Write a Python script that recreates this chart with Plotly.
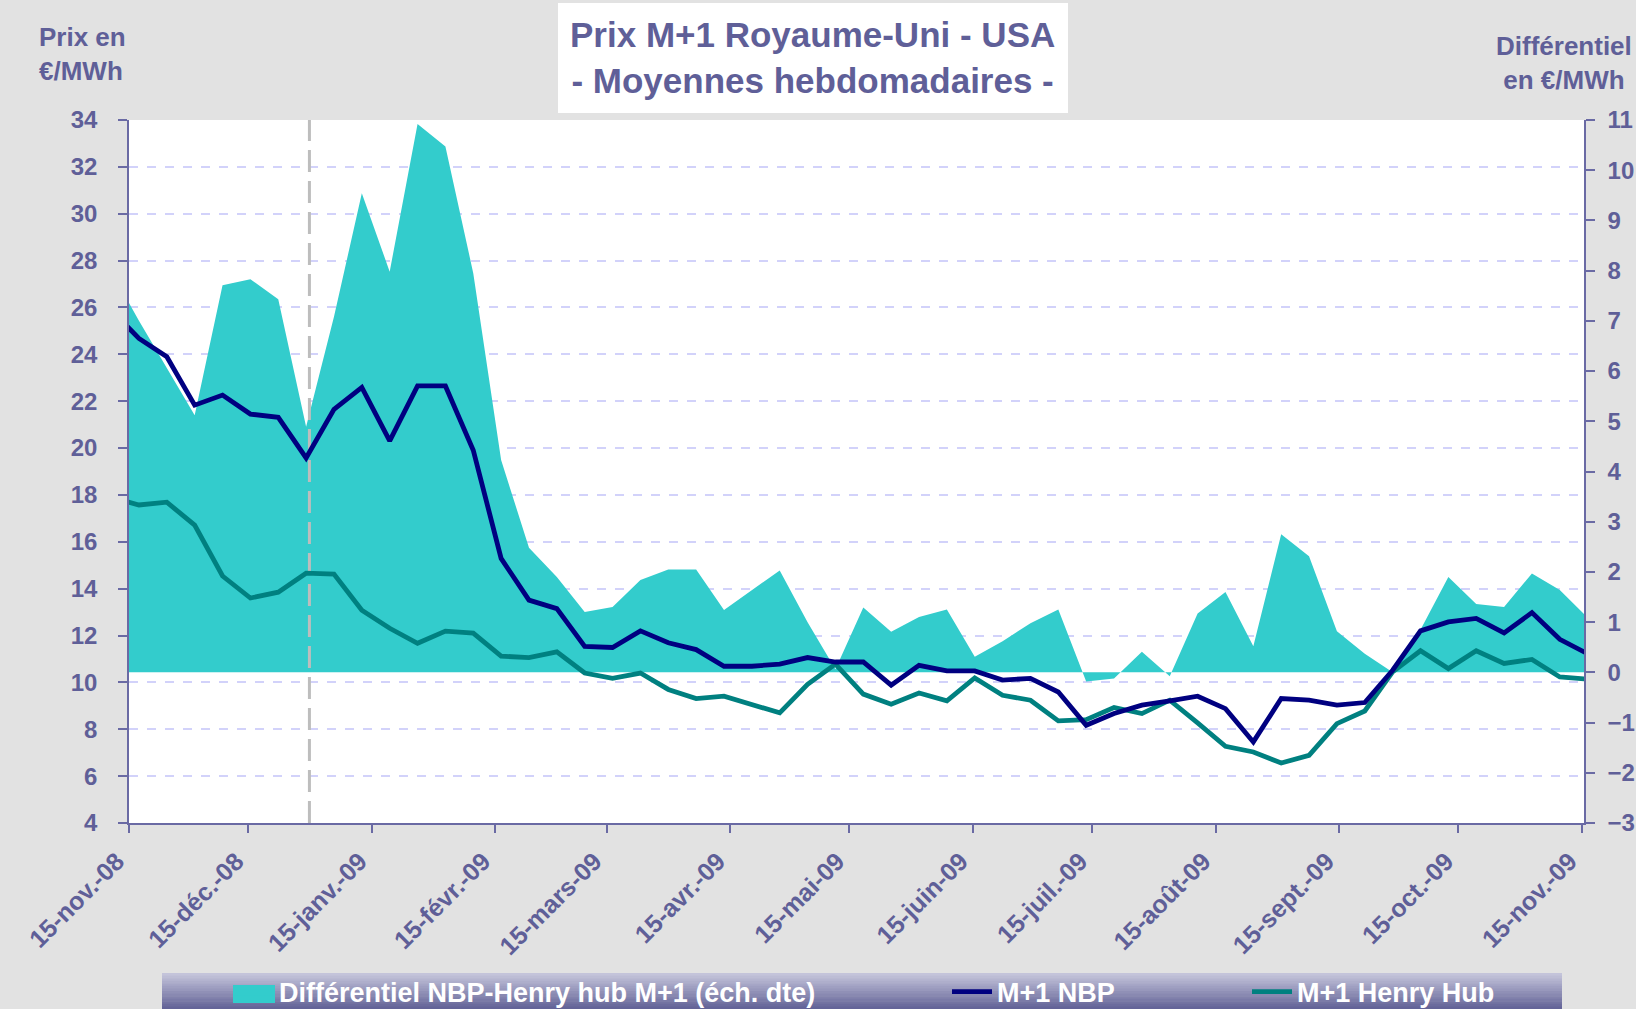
import pandas as pd
import plotly.graph_objects as go

# ---------------- data ----------------
weeks = [
    "2008-11-10", "2008-11-17", "2008-11-24", "2008-12-01", "2008-12-08", "2008-12-15",
    "2008-12-22", "2008-12-29", "2009-01-05", "2009-01-12", "2009-01-19", "2009-01-26",
    "2009-02-02", "2009-02-09", "2009-02-16", "2009-02-23", "2009-03-02", "2009-03-09",
    "2009-03-16", "2009-03-23", "2009-03-30", "2009-04-06", "2009-04-13", "2009-04-20",
    "2009-04-27", "2009-05-04", "2009-05-11", "2009-05-18", "2009-05-25", "2009-06-01",
    "2009-06-08", "2009-06-15", "2009-06-22", "2009-06-29", "2009-07-06", "2009-07-13",
    "2009-07-20", "2009-07-27", "2009-08-03", "2009-08-10", "2009-08-17", "2009-08-24",
    "2009-08-31", "2009-09-07", "2009-09-14", "2009-09-21", "2009-09-28", "2009-10-05",
    "2009-10-12", "2009-10-19", "2009-10-26", "2009-11-02", "2009-11-09", "2009-11-16",
]
nbp = [
    25.9, 24.68, 23.90, 21.83, 22.26, 21.45,
    21.31, 19.58, 21.65, 22.59, 20.31, 22.65,
    22.65, 19.91, 15.29, 13.51, 13.15, 11.54,
    11.49, 12.20, 11.69, 11.40, 10.69, 10.69,
    10.78, 11.06, 10.87, 10.87, 9.88, 10.73,
    10.49, 10.49, 10.10, 10.17, 9.59, 8.17,
    8.67, 9.03, 9.21, 9.41, 8.88, 7.46,
    9.31, 9.24, 9.03, 9.14, 10.52, 12.20,
    12.58, 12.73, 12.11, 12.98, 11.84, 11.22,
]
henry_hub = [
    17.9, 17.57, 17.69, 16.71, 14.54, 13.60,
    13.85, 14.66, 14.62, 13.08, 12.31, 11.67,
    12.19, 12.10, 11.12, 11.06, 11.30, 10.40,
    10.17, 10.40, 9.70, 9.31, 9.41, 9.03,
    8.70, 9.92, 10.78, 9.50, 9.07, 9.55,
    9.21, 10.19, 9.45, 9.24, 8.36, 8.41,
    8.93, 8.67, 9.24, 8.27, 7.27, 7.03,
    6.56, 6.89, 8.24, 8.78, 10.45, 11.35,
    10.59, 11.35, 10.81, 10.98, 10.23, 10.14,
]
differential = [
    8.00, 7.00, 6.06, 5.12, 7.71, 7.83,
    7.43, 4.89, 7.08, 9.54, 7.98, 10.92,
    10.47, 7.95, 4.23, 2.48, 1.90, 1.20,
    1.30, 1.84, 2.05, 2.05, 1.24, 1.64,
    2.03, 1.00, 0.06, 1.29, 0.81, 1.10,
    1.25, 0.31, 0.62, 0.98, 1.25, -0.18,
    -0.12, 0.41, -0.08, 1.17, 1.60, 0.52,
    2.75, 2.31, 0.82, 0.37, 0.00, 0.85,
    1.90, 1.36, 1.30, 1.97, 1.64, 1.09,
]
tick_dates = [
    "2008-11-15", "2008-12-15", "2009-01-15", "2009-02-15", "2009-03-15", "2009-04-15",
    "2009-05-15", "2009-06-15", "2009-07-15", "2009-08-15", "2009-09-15", "2009-10-15",
    "2009-11-15",
]
tick_labels = [
    "15-nov.-08", "15-déc.-08", "15-janv.-09", "15-févr.-09", "15-mars-09", "15-avr.-09",
    "15-mai-09", "15-juin-09", "15-juil.-09", "15-août-09", "15-sept.-09", "15-oct.-09",
    "15-nov.-09",
]
price_range = [4, 34]
diff_range = [-3, 11]
marker_date = "2008-12-30 08:00"
x_range = ["2008-11-15", "2009-11-15 14:00"]

name_diff = "Différentiel NBP-Henry hub M+1 (éch. dte)"
name_nbp = "M+1 NBP"
name_hh = "M+1 Henry Hub"

# ---------------- style ----------------
W, H = 1636, 1009
L, R, T, B = 129, 52, 120, 186
PW, PH = W - L - R, H - T - B
FONT = "Liberation Sans, Arial, Helvetica, sans-serif"
TXT = "#5f5f98"
AXC = "#6a6aa4"
TEAL_FILL = "#33CCCC"


def px(xp):
    return (xp - L) / PW


def py(yp):
    return (H - B - yp) / PH


# Excel places weekly points in the middle of the day slot
xdates = pd.to_datetime(weeks) + pd.Timedelta(hours=12)

fig = go.Figure()
fig.add_trace(go.Scatter(
    x=xdates, y=differential, yaxis="y", mode="lines", fill="tozeroy",
    fillcolor=TEAL_FILL, line=dict(width=0, color=TEAL_FILL),
    name=name_diff, legend="legend",
))
fig.add_trace(go.Scatter(
    x=[pd.Timestamp(marker_date)] * 2, y=diff_range, yaxis="y", mode="lines",
    line=dict(color="#bdbdbd", width=3, dash="22px,9px"), showlegend=False,
    hoverinfo="skip",
))
fig.add_trace(go.Scatter(
    x=xdates, y=henry_hub, yaxis="y2", mode="lines",
    line=dict(color="#008080", width=4.8), name=name_hh, legend="legend3",
))
fig.add_trace(go.Scatter(
    x=xdates, y=nbp, yaxis="y2", mode="lines",
    line=dict(color="#000080", width=4.8), name=name_nbp, legend="legend2",
))

tickfont = dict(family=FONT, size=24, color=TXT, weight="bold")

shapes = []
# legend bar with vertical gradient
n_strips = 14
top_c = (196, 196, 218)
bot_c = (100, 100, 152)
y_top, y_bot = 973, 1009
for i in range(n_strips):
    t = i / (n_strips - 1)
    c = tuple(int(round(top_c[k] + (bot_c[k] - top_c[k]) * t)) for k in range(3))
    y0p = y_top + (y_bot - y_top) * i / n_strips
    y1p = y_top + (y_bot - y_top) * (i + 1) / n_strips
    shapes.append(dict(type="rect", xref="paper", yref="paper", layer="below",
                       x0=px(162), x1=px(1562), y0=py(y1p + 0.5), y1=py(y0p),
                       line=dict(width=0), fillcolor="rgb(%d,%d,%d)" % c))
# legend swatch box for the area series (Excel style square)
shapes.append(dict(type="rect", xref="paper", yref="paper", layer="above",
                   x0=px(233), x1=px(275), y0=py(1003), y1=py(985),
                   line=dict(width=0), fillcolor=TEAL_FILL))
# title box
shapes.append(dict(type="rect", xref="paper", yref="paper", layer="below",
                   x0=px(558), x1=px(1068), y0=py(113), y1=py(3),
                   line=dict(width=0), fillcolor="white"))

annotations = [
    dict(text="Prix M+1 Royaume-Uni - USA<br>- Moyennes hebdomadaires -",
         xref="paper", yref="paper", x=px(812), y=py(58), xanchor="center", yanchor="middle",
         showarrow=False, font=dict(family=FONT, size=35, color=TXT, weight="bold")),
    dict(text="Prix en<br>€/MWh", xref="paper", yref="paper", x=px(37), y=py(54),
         xanchor="left", yanchor="middle", align="left", showarrow=False,
         font=dict(family=FONT, size=26, color=TXT, weight="bold")),
    dict(text="Différentiel<br>en €/MWh", xref="paper", yref="paper", x=px(1634), y=py(63),
         xanchor="right", yanchor="middle", align="center", showarrow=False,
         font=dict(family=FONT, size=26, color=TXT, weight="bold")),
]

legfont = dict(family=FONT, size=27, color="white", weight="bold")
leg_common = dict(orientation="h", xanchor="left", yanchor="middle", y=py(992),
                  bgcolor="rgba(0,0,0,0)", font=legfont, itemwidth=40)

fig.update_layout(
    width=W, height=H,
    margin=dict(l=L, r=R, t=T, b=B, autoexpand=False),
    paper_bgcolor="#e2e2e2", plot_bgcolor="white",
    font=dict(family=FONT, color=TXT),
    showlegend=True,
    legend=dict(x=px(229), **leg_common),
    legend2=dict(x=px(947), **leg_common),
    legend3=dict(x=px(1247), **leg_common),
    xaxis=dict(
        type="date", range=x_range, tickvals=tick_dates, ticktext=tick_labels,
        tickangle=-45, tickfont=dict(family=FONT, size=25, color=TXT, weight="bold"),
        ticks="outside", ticklen=8, tickcolor=AXC, tickwidth=1.5,
        showline=True, linecolor=AXC, linewidth=1.5, showgrid=False, zeroline=False,
        ticklabelstandoff=4, ticklabelshift=-12,
    ),
    yaxis=dict(
        range=diff_range, dtick=1, side="right", tickfont=tickfont,
        ticks="outside", ticklen=9, tickcolor=AXC, tickwidth=1.5,
        showline=True, linecolor=AXC, linewidth=1.5, showgrid=False, zeroline=False,
        ticklabelstandoff=8,
    ),
    yaxis2=dict(
        range=price_range, dtick=2, side="left", overlaying="y", tickfont=tickfont,
        ticks="outside", ticklen=9, tickcolor=AXC, tickwidth=1.5,
        showline=True, linecolor=AXC, linewidth=1.5,
        showgrid=True, gridcolor="#d2d2fa", griddash="dash", gridwidth=1.5,
        zeroline=False, ticklabelstandoff=16,
    ),
    shapes=shapes, annotations=annotations,
)

fig.write_html("out.html", config={"displayModeBar": False},
               post_script="document.body.style.margin='0';")
